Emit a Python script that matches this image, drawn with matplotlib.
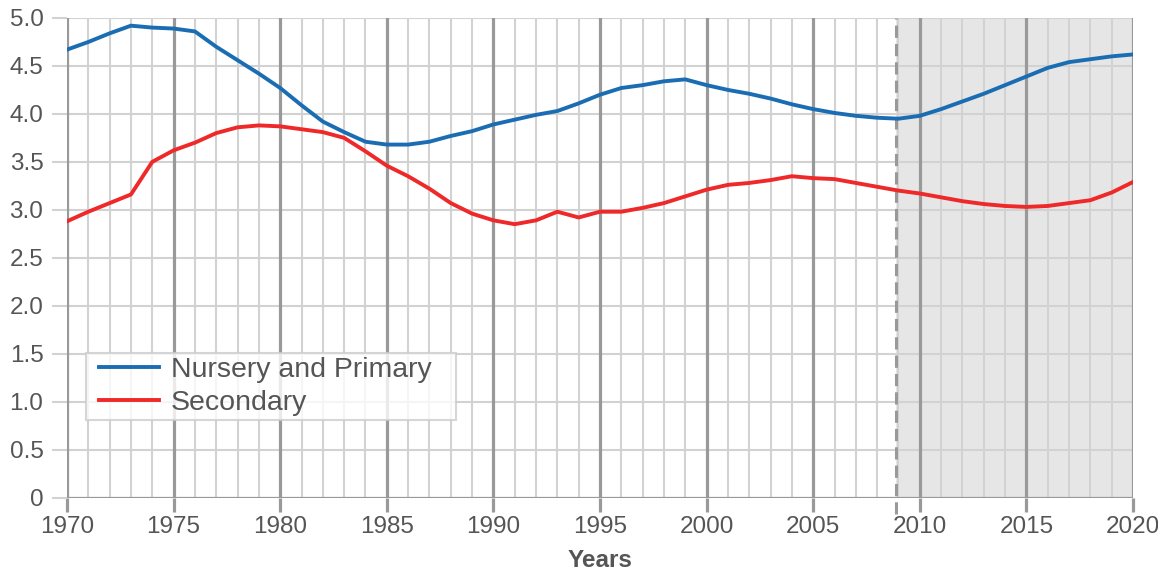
import matplotlib
matplotlib.use('Agg')
import matplotlib.pyplot as plt
from matplotlib.lines import Line2D
from matplotlib.legend_handler import HandlerLine2D
import numpy as np

# data
years = list(range(1970, 2021))
nursery_primary = [4.67, 4.75, 4.84, 4.92, 4.90, 4.89, 4.86, 4.70, 4.56, 4.42,
                   4.27, 4.09, 3.92, 3.81, 3.71, 3.68, 3.68, 3.71, 3.77, 3.82,
                   3.89, 3.94, 3.99, 4.03, 4.11, 4.20, 4.27, 4.30, 4.34, 4.36,
                   4.30, 4.25, 4.21, 4.16, 4.10, 4.05, 4.01, 3.98, 3.96, 3.95,
                   3.98, 4.05, 4.13, 4.21, 4.30, 4.39, 4.48, 4.54, 4.57, 4.60,
                   4.62]
secondary = [2.88, 2.98, 3.07, 3.16, 3.50, 3.62, 3.70, 3.80, 3.86, 3.88,
             3.87, 3.84, 3.81, 3.75, 3.61, 3.46, 3.35, 3.22, 3.07, 2.96,
             2.89, 2.85, 2.89, 2.98, 2.92, 2.98, 2.98, 3.02, 3.07, 3.14,
             3.21, 3.26, 3.28, 3.31, 3.35, 3.33, 3.32, 3.28, 3.24, 3.20,
             3.17, 3.13, 3.09, 3.06, 3.04, 3.03, 3.04, 3.07, 3.10, 3.18,
             3.29]
projection_start = 2008.9
y_ticks = [0, 0.5, 1.0, 1.5, 2.0, 2.5, 3.0, 3.5, 4.0, 4.5, 5.0]
y_tick_labels = ['0', '0.5', '1.0', '1.5', '2.0', '2.5', '3.0', '3.5', '4.0', '4.5', '5.0']

plt.rcParams['font.family'] = ['Liberation Sans', 'DejaVu Sans']

fig = plt.figure(figsize=(11.58, 5.72), dpi=100)
ax = fig.add_axes([67 / 1158, 1 - 497.5 / 572, 1066 / 1158, 479.5 / 572])

dark = '#999999'
light = '#d2d2d2'
text_c = '#555555'

# projection shading
ax.axvspan(projection_start, 2020, color='#e6e6e6', zorder=0, lw=0)

# grid
for yv in y_ticks:
    ax.axhline(yv, color=light, lw=1.5, zorder=1)
for yr in years:
    if yr % 5 == 0:
        ax.axvline(yr, color=dark, lw=2.3, zorder=2)
    else:
        ax.axvline(yr, color=light, lw=1.5, zorder=1)
ax.axhline(0, color=dark, lw=2.3, zorder=2)

ax.plot([projection_start, projection_start], [-0.17, 5], color=dark, lw=2.2,
        dashes=(4, 2), zorder=3, clip_on=False)

l1, = ax.plot(years, nursery_primary, color='#1b6db3', lw=2.8, zorder=4,
              label='Nursery and Primary')
l2, = ax.plot(years, secondary, color='#ef2929', lw=2.8, zorder=4,
              label='Secondary')

ax.set_xlim(1970, 2020)
ax.set_ylim(0, 5)
for s in ax.spines.values():
    s.set_visible(False)

ax.set_xticks(list(range(1970, 2021, 5)))
ax.tick_params(axis='x', length=10, width=2.3, color=dark, labelsize=17.5,
               labelcolor=text_c, pad=3)
ax.set_yticks(y_ticks)
ax.set_yticklabels(y_tick_labels)
ax.tick_params(axis='y', length=11, width=1.5, color=light, labelsize=17.5,
               labelcolor=text_c, pad=6)
ax.get_yticklines()[0].set_color(dark)

ax.set_xlabel('Years', fontsize=17.5, fontweight='bold', color=text_c, labelpad=8)

leg = ax.legend(handles=[l1, l2], loc='lower left',
                bbox_to_anchor=(0.0178, 0.1616, 370 / 1066, 0.1), mode='expand',
                borderaxespad=0, fontsize=20.5, frameon=True, fancybox=False,
                handlelength=2.4, handletextpad=0.42, labelspacing=0.23,
                borderpad=0.15, labelcolor=text_c,
                handler_map={Line2D: HandlerLine2D(xpad=0.3)})
leg.get_frame().set_edgecolor('#cccccc')
leg.get_frame().set_linewidth(1.5)
leg.set_zorder(5)

fig.savefig('out.png', dpi=100)
